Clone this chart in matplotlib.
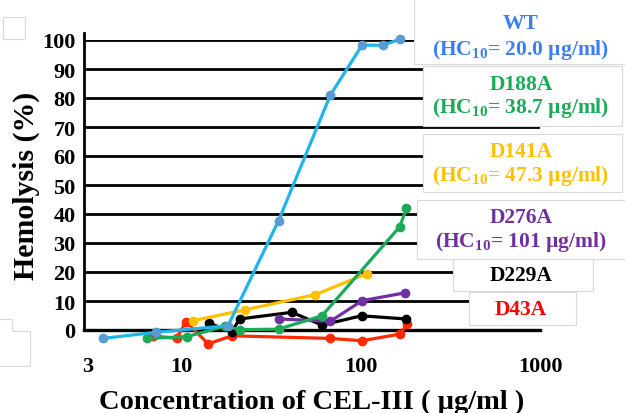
import matplotlib
matplotlib.use("Agg")
import matplotlib.pyplot as plt
from matplotlib.patches import Rectangle
from matplotlib.lines import Line2D

plt.rcParams["font.family"] = ["Liberation Serif", "DejaVu Serif"]
plt.rcParams["font.weight"] = "bold"

# hemolysis curves
wt_x = [3.64, 7.2, 18.2, 34.8, 67.7, 101.7, 133, 166]
wt_y = [-2.9, -0.8, 1.5, 37.7, 81, 98.2, 98.2, 100.3]
d188_x = [6.4, 10.7, 17.5, 21.1, 34.8, 60.8, 165, 180]
d188_y = [-2.9, -2.3, 1.3, 0.1, 0.3, 4.9, 35.6, 42]
d141_x = [11.6, 22.7, 55.8, 108]
d141_y = [3.2, 7.0, 12.2, 19.4]
d276_x = [34.8, 67.7, 101.7, 176]
d276_y = [3.8, 3.0, 10.1, 12.8]
d229_x = [14.3, 19.1, 21.1, 41.3, 60.8, 101, 179]
d229_y = [2.3, -0.6, 3.8, 6.1, 1.7, 4.9, 3.8]
d43_x = [6.9, 9.4, 10.6, 14.1, 19.1, 67.7, 101.7, 166, 181]
d43_y = [-2.0, -2.9, 2.9, -4.8, -2.0, -2.9, -3.7, -1.4, 2.1]

y_ticks = list(range(0, 101, 10))
x_ticks = [3, 10, 100, 1000]
x_tick_labels = ["3", "10", "100", "1000"]

W, H = 625, 414
fig = plt.figure(figsize=(W / 100, H / 100), dpi=100)
ax = fig.add_axes([84 / W, (H - 331) / H, (540 - 84) / W, (331 - 41) / H])

series = [
    (d43_x, d43_y, "#FF2A00", "#FF2A00"),
    (d229_x, d229_y, "black", "black"),
    (d276_x, d276_y, "#7030A0", "#7030A0"),
    (d141_x, d141_y, "#FFC000", "#FFC000"),
    (d188_x, d188_y, "#1BAA58", "#1BAA58"),
    (wt_x, wt_y, "#1DB5EA", "#5B9BD5"),
]
for xs, ys, lc, mc in series:
    ax.plot(xs, ys, color=lc, linewidth=2.3, marker="o", markersize=6,
            markerfacecolor=mc, markeredgecolor=mc, clip_on=False, zorder=3)

ax.set_xscale("log")
ax.set_xlim(2.86, 1000)
ax.set_ylim(0, 100)

for v in y_ticks[1:]:
    ax.axhline(v, color="black", linewidth=2.0, zorder=1)

for s in ["top", "right"]:
    ax.spines[s].set_visible(False)
ax.spines["bottom"].set_linewidth(2.4)
ax.spines["left"].set_linewidth(2.0)
ax.spines["left"].set_bounds(0, 102.5)

ax.set_yticks(y_ticks)
ax.set_yticklabels([str(v) for v in y_ticks], fontsize=16, fontweight="bold")
ax.set_xticks(x_ticks)
ax.set_xticklabels(x_tick_labels, fontsize=16, fontweight="bold")
ax.xaxis.set_minor_locator(matplotlib.ticker.NullLocator())
ax.tick_params(axis="y", length=0, pad=6)
ax.tick_params(axis="x", length=0, pad=19)

ax.set_ylabel("Hemolysis (%)", fontsize=21.5, fontweight="bold", labelpad=2)
ax.set_xlabel("Concentration of CEL-III ( µg/ml )", fontsize=20.5,
              fontweight="bold", labelpad=9)

# label boxes on the right, pixel rectangles (left, top, right, bottom)
boxes = [
    ((414, -5, 640, 65), [("WT", 24), ("(HC$_{\\mathregular{10}}$= 20.0 µg/ml)", 50)], "#3D7FF0"),
    ((423, 67, 622, 127), [("D188A", 85), ("(HC$_{\\mathregular{10}}$= 38.7 µg/ml)", 108)], "#1BAA58"),
    ((423, 135, 622, 193), [("D141A", 152), ("(HC$_{\\mathregular{10}}$= 47.3 µg/ml)", 176)], "#FFC000"),
    ((417, 201, 630, 260), [("D276A", 218), ("(HC$_{\\mathregular{10}}$= 101 µg/ml)", 242)], "#7030A0"),
    ((453, 260, 593, 292), [("D229A", 276)], "black"),
    ((469, 293, 576, 326), [("D43A", 310)], "#FF0000"),
]
for (l, t, r, b), lines, col in boxes:
    fig.add_artist(Rectangle((l / W, 1 - b / H), (r - l) / W, (b - t) / H,
                             transform=fig.transFigure, facecolor="white",
                             edgecolor="#D9D9D9", linewidth=0.8, zorder=5))
    for txt, yy in lines:
        fig.text(521 / W, 1 - yy / H, txt, color=col, fontsize=15.5,
                 fontweight="bold", ha="center", va="center", zorder=6)

# stray empty frames at the left edge
fig.add_artist(Rectangle((3 / W, 1 - 40 / H), 22 / W, 22 / H, transform=fig.transFigure,
                         facecolor="white", edgecolor="#D9D9D9", linewidth=0.8))
fig.add_artist(Line2D([0, 12 / W, 12 / W, 30 / W, 30 / W, 0],
                      [1 - 320 / H, 1 - 320 / H, 1 - 332 / H, 1 - 332 / H, 1 - 367 / H, 1 - 367 / H],
                      transform=fig.transFigure, color="#D9D9D9", linewidth=0.8))

fig.savefig("out.png", dpi=100)
